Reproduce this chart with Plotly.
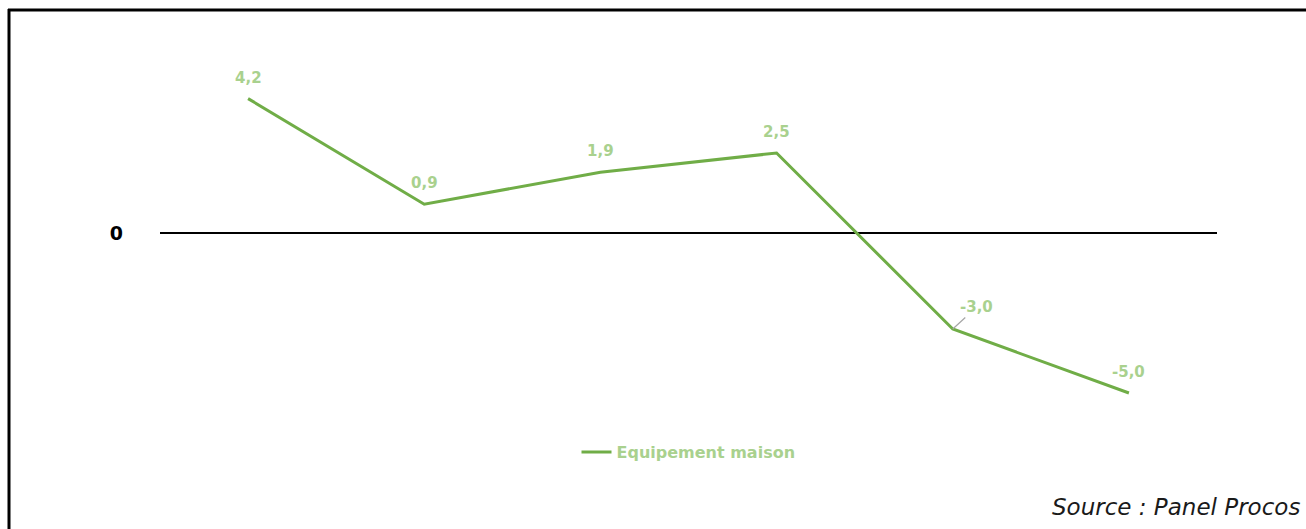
import plotly.graph_objects as go

# Series data
categories = ["P1", "P2", "P3", "P4", "P5", "P6"]
values = [4.2, 0.9, 1.9, 2.5, -3.0, -5.0]
value_labels = ["4,2", "0,9", "1,9", "2,5", "-3,0", "-5,0"]
series_name = "Equipement maison"
source_text = "Source : Panel Procos"

LINE_GREEN = "#70AD47"
LABEL_GREEN = "#A9D18E"
FONT = "Century Gothic, DejaVu Sans, sans-serif"

W, H = 1306, 529
L, R, T, B = 160, 89, 41, 104
PW, PH = W - L - R, H - T - B


def px_x(x):
    return (x - L) / PW


def px_y(y):
    return (H - B - y) / PH


fig = go.Figure()
fig.add_trace(go.Scatter(
    x=list(range(len(categories))),
    y=values,
    mode="lines",
    name=series_name,
    line=dict(color=LINE_GREEN, width=3),
    hoverinfo="skip",
))

# Data labels: above each point, the fifth one offset with a leader line
for i, (v, lab) in enumerate(zip(values, value_labels)):
    if i == 4:
        fig.add_annotation(x=i, y=v, text=lab, showarrow=True, arrowhead=0,
                           arrowwidth=1.2, arrowcolor="#A6A6A6", ax=24, ay=-22,
                           standoff=0,
                           font=dict(family=FONT, size=15, color=LABEL_GREEN, weight="bold"))
    else:
        fig.add_annotation(x=i, y=v, text=lab, showarrow=False, yshift=21,
                           font=dict(family=FONT, size=15, color=LABEL_GREEN, weight="bold"))

fig.add_annotation(xref="paper", yref="paper", x=px_x(1302), y=px_y(507),
                   xanchor="right", yanchor="middle", text=source_text, showarrow=False,
                   font=dict(family=FONT, size=23, color="#1a1a1a", style="italic"))

# Frame: top and left edges
fig.add_shape(type="line", xref="paper", yref="paper",
              x0=px_x(8), x1=px_x(1320), y0=px_y(10), y1=px_y(10),
              line=dict(color="black", width=3))
fig.add_shape(type="line", xref="paper", yref="paper",
              x0=px_x(9), x1=px_x(9), y0=px_y(9), y1=px_y(545),
              line=dict(color="black", width=3))

fig.update_layout(
    width=W, height=H,
    margin=dict(l=L, r=R, t=T, b=B),
    plot_bgcolor="white", paper_bgcolor="white",
    showlegend=True,
    legend=dict(orientation="h", x=0.5, xanchor="center", y=px_y(452), yanchor="middle",
                font=dict(family=FONT, size=16, color=LABEL_GREEN, weight="bold"),
                itemwidth=30, bgcolor="rgba(0,0,0,0)"),
    xaxis=dict(range=[-0.5, 5.5], showgrid=False, zeroline=False, showticklabels=False,
               showline=False, ticks=""),
    yaxis=dict(range=[-6, 6], showgrid=False, zeroline=True, zerolinecolor="black",
               zerolinewidth=1.5, tickvals=[0], ticktext=["0"], ticklabelstandoff=36,
               tickfont=dict(family=FONT, size=19, color="black", weight="bold"),
               showline=False, ticks=""),
)

fig.write_html("out.html")
